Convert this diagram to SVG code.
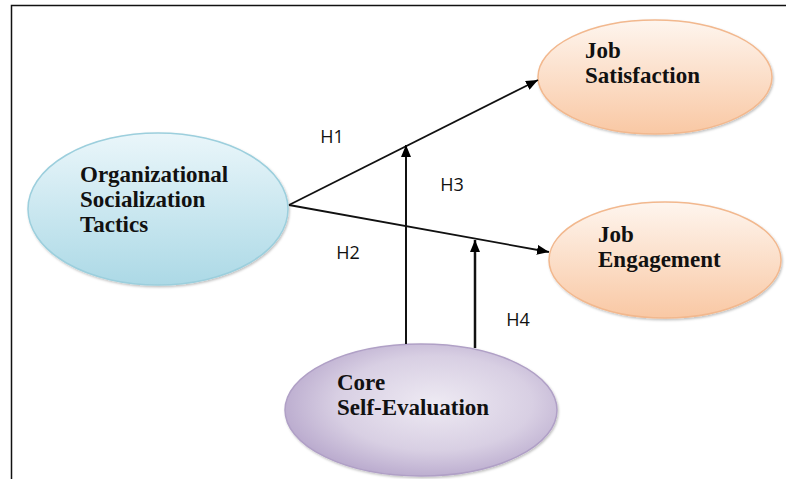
<svg xmlns="http://www.w3.org/2000/svg" width="786" height="479" viewBox="0 0 786 479">
  <defs>
    <linearGradient id="gBlue" x1="0" y1="0" x2="0" y2="1">
      <stop offset="0" stop-color="#eaf6fa"/>
      <stop offset="1" stop-color="#acd9e6"/>
    </linearGradient>
    <linearGradient id="gOrange" x1="0" y1="0" x2="0" y2="1">
      <stop offset="0" stop-color="#fef5ee"/>
      <stop offset="1" stop-color="#f9c8a4"/>
    </linearGradient>
    <radialGradient id="gPurple" cx="0.55" cy="0.45" r="0.6">
      <stop offset="0" stop-color="#eeeaf3"/>
      <stop offset="0.6" stop-color="#d8cfe3"/>
      <stop offset="1" stop-color="#b6a6cb"/>
    </radialGradient>
    <marker id="arrow" viewBox="0 0 12 10" refX="12" refY="5" markerWidth="12" markerHeight="10" markerUnits="userSpaceOnUse" orient="auto">
      <path d="M0,0 L12,5 L0,10 Z" fill="#000"/>
    </marker>
    <filter id="shadow" x="-10%" y="-10%" width="120%" height="130%">
      <feDropShadow dx="1" dy="1.5" stdDeviation="1" flood-color="#000" flood-opacity="0.25"/>
    </filter>
  </defs>
  <style>
    .node { stroke-width: 1.5; filter: url(#shadow); }
    .lbl { font-family: "Liberation Serif", "Times New Roman", serif; font-weight: bold; font-size: 23px; fill: #111; }
    .h { font-family: "Open Sans", "Liberation Sans", Arial, sans-serif; font-size: 18px; fill: #111; }
    .edge { stroke: #111; fill: none; }
  </style>
  <rect width="786" height="479" fill="#fff"/>
  <path d="M11.5,479 L11.5,5.5 L786,5.5" fill="none" stroke="#111" stroke-width="1.5"/>

  <g id="ost">
    <ellipse class="node" cx="158" cy="209" rx="130" ry="76" fill="url(#gBlue)" stroke="#9ccfdd"/>
    <text class="lbl" x="80" y="182">Organizational</text>
    <text class="lbl" x="80" y="207">Socialization</text>
    <text class="lbl" x="80" y="232">Tactics</text>
  </g>
  <g id="js">
    <ellipse class="node" cx="655" cy="77" rx="117" ry="57" fill="url(#gOrange)" stroke="#f2b88e"/>
    <text class="lbl" x="585" y="58">Job</text>
    <text class="lbl" x="585" y="83">Satisfaction</text>
  </g>
  <g id="je">
    <ellipse class="node" cx="665" cy="260" rx="116" ry="58" fill="url(#gOrange)" stroke="#f2b88e"/>
    <text class="lbl" x="598" y="242">Job</text>
    <text class="lbl" x="598" y="267">Engagement</text>
  </g>
  <g id="cse">
    <ellipse class="node" cx="421" cy="410" rx="136" ry="66" fill="url(#gPurple)" stroke="#b0a0c6"/>
    <text class="lbl" x="337" y="390">Core</text>
    <text class="lbl" x="337" y="415">Self-Evaluation</text>
  </g>

  <g id="connectors">
    <line class="edge" x1="289" y1="205" x2="538" y2="80" stroke-width="1.8" marker-end="url(#arrow)"/>
    <line class="edge" x1="289" y1="205" x2="549" y2="252" stroke-width="1.8" marker-end="url(#arrow)"/>
    <line class="edge" x1="406" y1="344" x2="406" y2="145" stroke-width="2" marker-end="url(#arrow)"/>
    <line class="edge" x1="475" y1="348" x2="475" y2="240" stroke-width="2.5" marker-end="url(#arrow)"/>
    <text class="h" x="332" y="143" text-anchor="middle">H1</text>
    <text class="h" x="452" y="191" text-anchor="middle">H3</text>
    <text class="h" x="348" y="259" text-anchor="middle">H2</text>
    <text class="h" x="518" y="326" text-anchor="middle">H4</text>
  </g>
</svg>
